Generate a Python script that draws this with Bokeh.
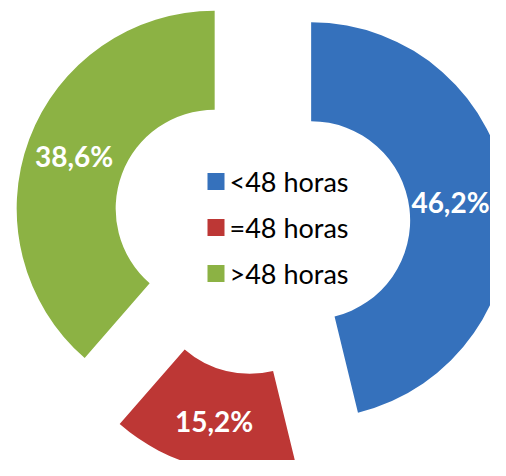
import numpy as np
from bokeh.plotting import figure
from bokeh.models import Range1d, ColumnDataSource
from bokeh.core.properties import value
from bokeh.embed import file_html
from bokeh.resources import INLINE

# ---- data ----
categories = ["<48 horas", "=48 horas", ">48 horas"]
shares = [46.2, 15.2, 38.6]
labels = ["46,2%", "15,2%", "38,6%"]
colors = ["#3571BC", "#BD3735", "#8CB244"]

# ---- geometry (pixel-like data space, y up = -screen y) ----
W, H = 490, 460
CX, CY = 261.0, -225.7
R_OUT, R_IN = 198.0, 99.0
EXPLODE = 50.0
LABEL_R = 150.0
LABEL_HALF_W = 39.0

frac = np.array(shares) / np.sum(shares)
cum = np.concatenate([[0.0], np.cumsum(frac)])
start = np.pi / 2 - 2 * np.pi * cum[:-1]
end = np.pi / 2 - 2 * np.pi * cum[1:]
mid = (start + end) / 2
xs = CX + EXPLODE * np.cos(mid)
ys = CY + EXPLODE * np.sin(mid)
lx = xs + LABEL_R * np.cos(mid)
ly = ys + LABEL_R * np.sin(mid)
# keep labels inside the drawing area
lx = np.clip(lx, LABEL_HALF_W + 1, W - LABEL_HALF_W - 1)

src = ColumnDataSource(dict(x=xs, y=ys, start=start, end=end, color=colors,
                            lx=lx, ly=ly, label=labels, cat=categories))

p = figure(width=W, height=H, output_backend="svg", toolbar_location=None,
           x_range=Range1d(0, W), y_range=Range1d(-H, 0), min_border=0)
p.axis.visible = False
p.grid.visible = False
p.outline_line_color = None
p.background_fill_color = "white"
p.border_fill_color = "white"

p.annular_wedge(x="x", y="y", inner_radius=R_IN, outer_radius=R_OUT,
                start_angle="start", end_angle="end", direction="clock",
                fill_color="color", line_color=None, source=src)

p.text(x="lx", y="ly", text="label", text_color="white",
       text_font=value("Lato"), text_font_style="bold", text_font_size="28px",
       text_align="center", text_baseline="middle", source=src)

# ---- legend in the hole ----
leg_y = np.array([-181.0, -227.0, -273.0])
leg_src = ColumnDataSource(dict(x=[215.5] * 3, y=leg_y, color=colors,
                                tx=[229.0] * 3, cat=categories))
p.rect(x="x", y="y", width=17, height=17, fill_color="color", line_color=None,
       source=leg_src)
p.text(x="tx", y="y", text="cat", text_color="black",
       text_font=value("Lato"), text_font_size="27px",
       text_align="left", text_baseline="middle", source=leg_src)

open("out.html", "w").write(file_html(p, INLINE))
